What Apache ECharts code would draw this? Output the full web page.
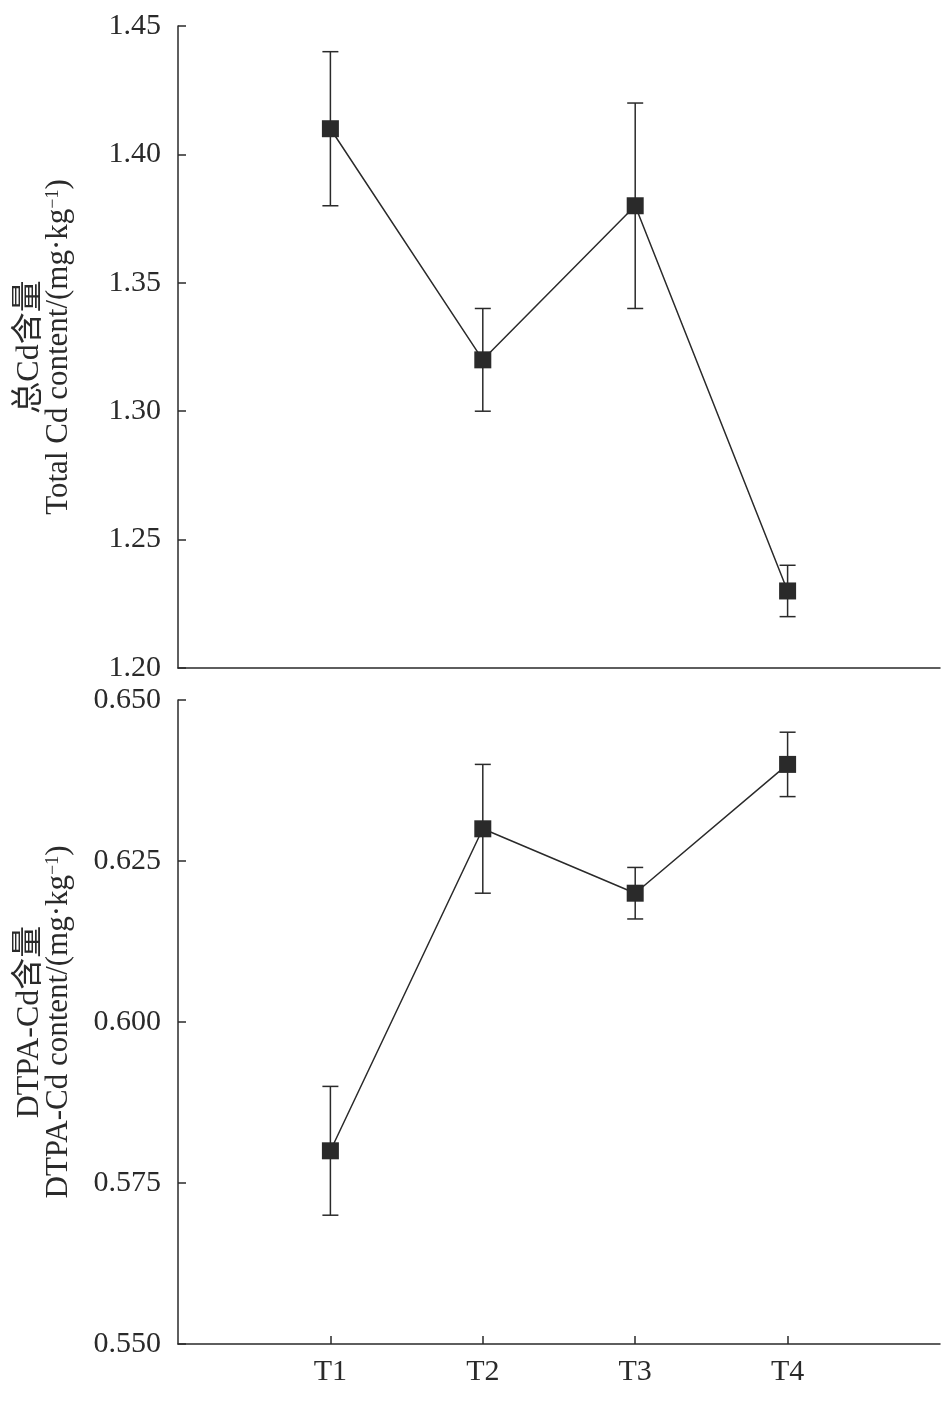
<!DOCTYPE html>
<html>
<head>
<meta charset="utf-8">
<script src="https://cdn.jsdelivr.net/npm/echarts@6/dist/echarts.min.js"></script>
<style>
  html, body { margin: 0; padding: 0; background: #fff; }
  #chart { width: 941px; height: 1409px; }
</style>
</head>
<body>
<div id="chart"></div>
<script>
// treatments
var categories = ['T1', 'T2', 'T3', 'T4'];

// total Cd (mg/kg): mean, lower, upper
var totalMean = [1.41, 1.32, 1.38, 1.23];
var totalLow = [1.38, 1.30, 1.34, 1.22];
var totalHigh = [1.44, 1.34, 1.42, 1.24];

// DTPA-Cd (mg/kg): mean, lower, upper
var dtpaMean = [0.580, 0.630, 0.620, 0.640];
var dtpaLow = [0.570, 0.620, 0.616, 0.635];
var dtpaHigh = [0.590, 0.640, 0.624, 0.645];

var font = '"Liberation Serif", "Noto Sans CJK SC", serif';
var ink = '#2a2a2a';
var axisData = [''].concat(categories, ['']);

function pts(vals) {
    return vals.map(function (v, i) { return [categories[i], v]; });
}
function bars(low, high) {
    return low.map(function (v, i) { return [categories[i], v, high[i]]; });
}

function errorItem(params, api) {
    var lo = api.coord([api.value(0), api.value(1)]);
    var hi = api.coord([api.value(0), api.value(2)]);
    var w = 8;
    var st = { stroke: ink, lineWidth: 1.5 };
    return {
        type: 'group',
        children: [
            { type: 'line', shape: { x1: lo[0], y1: lo[1], x2: hi[0], y2: hi[1] }, style: st },
            { type: 'line', shape: { x1: lo[0] - w, y1: lo[1], x2: lo[0] + w, y2: lo[1] }, style: st },
            { type: 'line', shape: { x1: hi[0] - w, y1: hi[1], x2: hi[0] + w, y2: hi[1] }, style: st }
        ]
    };
}

function yName(zh, en) {
    return '{zh|' + zh + '}\n{en|' + en + ' content/(mg·kg}{sup|−1}{en|)}';
}

var nameStyle = {
    fontFamily: font,
    color: ink,
    rich: {
        zh: { fontSize: 32, fontFamily: font, color: ink, lineHeight: 29 },
        en: { fontSize: 31, fontFamily: font, color: ink, lineHeight: 29 },
        sup: { fontSize: 18, fontFamily: font, color: ink, lineHeight: 29, verticalAlign: 'top', padding: [0, 0, 14, 0] }
    }
};

var axisLineStyle = { color: ink, width: 1.5 };
var labelStyle = { fontFamily: font, fontSize: 30, color: ink, margin: 17 };

var option = {
    backgroundColor: '#fff',
    animation: false,
    grid: [
        { left: 178, right: 1, top: 26, height: 642 },
        { left: 178, right: 1, top: 700, height: 644 }
    ],
    xAxis: [
        {
            type: 'category', gridIndex: 0, data: axisData, boundaryGap: false,
            axisLine: { lineStyle: axisLineStyle },
            axisTick: { show: false },
            axisLabel: { show: false }
        },
        {
            type: 'category', gridIndex: 1, data: axisData, boundaryGap: false,
            axisLine: { lineStyle: axisLineStyle },
            axisTick: {
                inside: true, length: 8, lineStyle: axisLineStyle,
                interval: function (idx) { return idx > 0 && idx < axisData.length - 1; }
            },
            axisLabel: Object.assign({}, labelStyle, {
                margin: 13,
                interval: function (idx) { return idx > 0 && idx < axisData.length - 1; }
            })
        }
    ],
    yAxis: [
        {
            type: 'value', gridIndex: 0, min: 1.20, max: 1.45, interval: 0.05,
            splitLine: { show: false },
            axisLine: { show: true, lineStyle: axisLineStyle },
            axisTick: { show: true, inside: true, length: 8, lineStyle: axisLineStyle },
            axisLabel: Object.assign({}, labelStyle, {
                formatter: function (v) { return v.toFixed(2); }
            }),
            name: yName('总Cd含量', 'Total Cd'),
            nameLocation: 'middle', nameRotate: 90, nameGap: 105,
            nameTextStyle: nameStyle
        },
        {
            type: 'value', gridIndex: 1, min: 0.55, max: 0.65, interval: 0.025,
            splitLine: { show: false },
            axisLine: { show: true, lineStyle: axisLineStyle },
            axisTick: { show: true, inside: true, length: 8, lineStyle: axisLineStyle },
            axisLabel: Object.assign({}, labelStyle, {
                formatter: function (v) { return v.toFixed(3); }
            }),
            name: yName('DTPA-Cd含量', 'DTPA-Cd'),
            nameLocation: 'middle', nameRotate: 90, nameGap: 105,
            nameTextStyle: nameStyle
        }
    ],
    series: [
        {
            type: 'custom', xAxisIndex: 0, yAxisIndex: 0,
            renderItem: errorItem, data: bars(totalLow, totalHigh), z: 2
        },
        {
            type: 'line', xAxisIndex: 0, yAxisIndex: 0, data: pts(totalMean),
            symbol: 'rect', symbolSize: 17,
            itemStyle: { color: ink }, lineStyle: { color: ink, width: 1.5 }, z: 3
        },
        {
            type: 'custom', xAxisIndex: 1, yAxisIndex: 1,
            renderItem: errorItem, data: bars(dtpaLow, dtpaHigh), z: 2
        },
        {
            type: 'line', xAxisIndex: 1, yAxisIndex: 1, data: pts(dtpaMean),
            symbol: 'rect', symbolSize: 17,
            itemStyle: { color: ink }, lineStyle: { color: ink, width: 1.5 }, z: 3
        }
    ]
};

var chart = echarts.init(document.getElementById('chart'));
chart.setOption(option);
</script>
</body>
</html>
